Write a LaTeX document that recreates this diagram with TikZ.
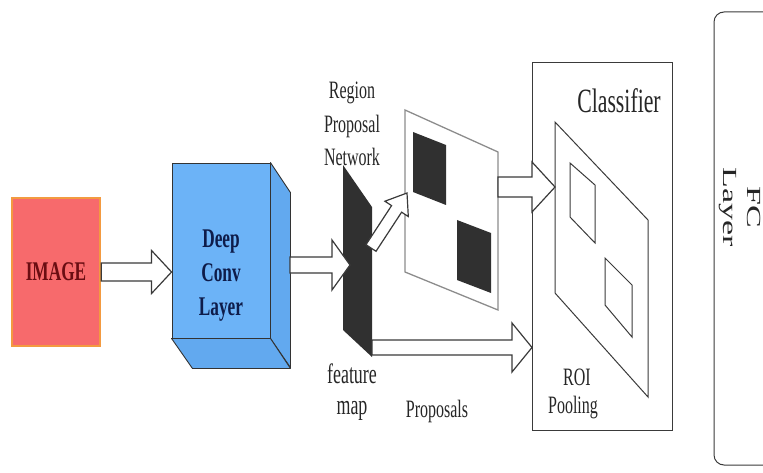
\documentclass[tikz,border=0pt]{standalone}
\usepackage{fontspec}
\setmainfont{Liberation Serif}
\newfontfamily\cond[FakeStretch=0.64]{Liberation Serif}
\newfontfamily\widefont[FakeStretch=1.7]{Liberation Serif}
\usetikzlibrary{calc}
\definecolor{imgfill}{HTML}{F76A6C}
\definecolor{imgborder}{HTML}{F39A40}
\definecolor{imgtext}{HTML}{6A0D12}
\definecolor{cubefill}{HTML}{6CB3F7}
\definecolor{cubeside}{HTML}{62A9EF}
\definecolor{cubetext}{HTML}{0E1C4A}
\definecolor{darkfill}{HTML}{303030}
\definecolor{lineg}{HTML}{3A3A3A}
\definecolor{sheetg}{HTML}{8C8C8C}
\tikzset{
  blockarrow/.style={draw=lineg, line width=1.2pt, fill=white, line join=miter},
  imgbox/.style={draw=imgborder, line width=2.5pt, fill=imgfill, minimum width=88pt,
    minimum height=148pt, inner sep=0pt, text=imgtext,
    font=\cond\bfseries\fontsize{27}{30}\selectfont},
  cubefront/.style={draw=black!80, line width=0.9pt, fill=cubefill, minimum width=98pt,
    minimum height=175pt, inner sep=0pt},
  cubefaces/.style={draw=black!80, line width=0.9pt, fill=cubeside, line join=round},
  boldlbl/.style={align=center, text=cubetext, inner sep=0pt,
    font=\cond\bfseries\fontsize{27}{34}\selectfont},
  lbl/.style={align=center, inner sep=0pt, text=black!85,
    font=\cond\fontsize{25}{33.5}\selectfont},
  darkrect/.style={fill=darkfill},
  sheet/.style={draw=sheetg, line width=1.3pt, line join=miter},
  roisheet/.style={draw=lineg, line width=1pt, line join=miter},
  boxline/.style={draw=lineg, line width=1pt},
}
\newcommand{\barrow}[5]{%
  \draw[blockarrow] let \p1=(#1), \p2=(#2), \n1={atan2(\y2-\y1,\x2-\x1)} in
    ($(#1)+(\n1+90:#3)$) -- ($(#2)+(\n1+180:#5)+(\n1+90:#3)$)
    -- ($(#2)+(\n1+180:#5)+(\n1+90:#4)$) -- (#2)
    -- ($(#2)+(\n1+180:#5)+(\n1-90:#4)$) -- ($(#2)+(\n1+180:#5)+(\n1-90:#3)$)
    -- ($(#1)+(\n1-90:#3)$) -- cycle;}
\begin{document}
\begin{tikzpicture}[x=1pt,y=-1pt]
\useasboundingbox (0,0) rectangle (763,473);
% IMAGE
\node[imgbox] (img) at (56,272) {IMAGE};
% Deep conv cube
\node[cubefront] (deep) at (221,250.5) {};
\draw[cubefaces] (deep.north east) -- ++(20,30) -- ++(0,175) -- (deep.south east) -- cycle;
\draw[cubefaces] (deep.south west) -- (deep.south east) -- ++(20,30) -- ++(-98,0) -- cycle;
\node[boldlbl] (deeplbl) at (221,276) {Deep\\Conv\\Layer};
% arrow image -> deep
\coordinate (a1e) at (deep.west |- img.east);
\barrow{img.east}{a1e}{9pt}{21.5pt}{20pt}
% feature map
\fill[darkrect] (343,165) coordinate (fmtl) -- (372,207) coordinate (fmtr)
  -- (372,357) coordinate (fmbr) -- (343,330) coordinate (fmbl) -- cycle;
% arrow deep -> feature map
\coordinate (a2s) at (290,265);
\coordinate (a2e) at (350,265);
\barrow{a2s}{a2e}{8pt}{25pt}{18pt}
% RPN sheet
\draw[sheet] (405,110) coordinate (rptl) -- (498,152) coordinate (rptr)
  -- (498,310) coordinate (rpbr) -- (405,272) coordinate (rpbl) -- cycle;
\fill[darkrect] (413,132) -- (446,145) -- (446,205) -- (413,192) -- cycle;
\fill[darkrect] (457,220) -- (491,233) -- (491,293) -- (457,280) -- cycle;
% diagonal arrow feature map -> RPN sheet
\coordinate (a3s) at (371,248);
\coordinate (a3e) at (407,193);
\barrow{a3s}{a3e}{6pt}{14pt}{19pt}
% Classifier box
\node[boxline, minimum width=140pt, minimum height=367pt, inner sep=0pt] (cls) at (602,246.5) {};
\node[lbl, font=\cond\fontsize{34}{40}\selectfont] (clslbl) at (619,101) {Classifier};
% ROI sheet
\draw[roisheet] (555,122) coordinate (rotl) -- (648,220) -- (648,397) -- (555,293) -- cycle;
\draw[roisheet] (570,163) -- (595,185) -- (595,243) -- (570,217) -- cycle;
\draw[roisheet] (605,258) -- (632,285) -- (632,337) -- (605,305) -- cycle;
% arrow RPN -> classifier
\coordinate (a4s) at (498,187);
\coordinate (a4e) at (555,187);
\barrow{a4s}{a4e}{10pt}{25pt}{23pt}
% arrow feature map -> ROI pooling (proposals)
\coordinate (a5s) at (372,347.5);
\coordinate (a5e) at (532,347.5);
\barrow{a5s}{a5e}{7.5pt}{24.5pt}{20pt}
% labels
\node[lbl] (rpnlbl) at (352,124) {Region\\Proposal\\Network};
\node[lbl, font=\cond\fontsize{28}{34}\selectfont] (featlbl) at (352,374) {feature};
\node[lbl, font=\cond\fontsize{28}{34}\selectfont] (maplbl) at (352,411) {map};
\node[lbl] (proplbl) at (437,411) {Proposals};
\node[lbl] (roilbl) at (577,377) {ROI};
\node[lbl] (poollbl) at (573,408) {Pooling};
% FC layer box
\draw[boxline, rounded corners=10pt] (763,12) -- (714,12) -- (714,465) -- (763,465);
\node[align=center, rotate=-90, inner sep=0pt, text=black!85,
  font=\widefont\fontsize{20}{24}\selectfont] (fclbl) at (740,207) {FC\\Layer};
\end{tikzpicture}
\end{document}
